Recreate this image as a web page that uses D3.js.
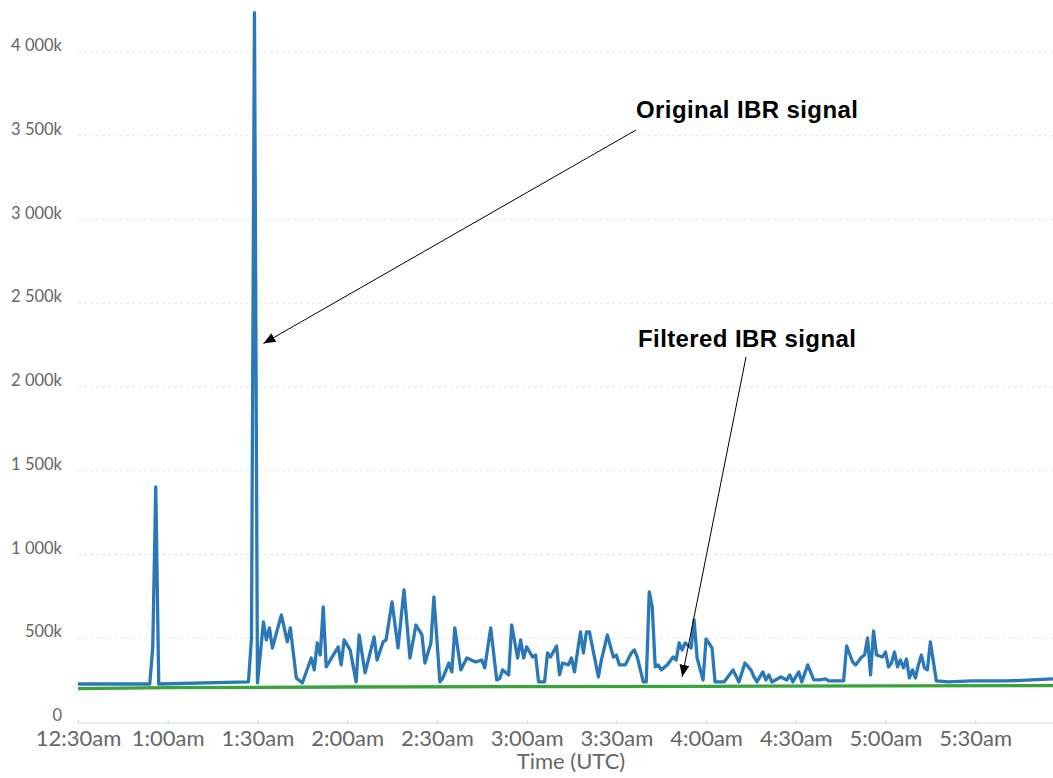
<!DOCTYPE html>
<html>
<head>
<meta charset="utf-8">
<script src="https://cdn.jsdelivr.net/npm/d3@7"></script>
<style>
  body { margin: 0; background: #fff; }
  svg { display: block; }
  .tick-y text { font-family: Lato, "Open Sans", sans-serif; font-size: 16.5px; fill: #666; }
  .tick-x text { font-family: Lato, "Open Sans", sans-serif; font-size: 22px; fill: #666; }
  .note { font-family: "Liberation Sans", Arial, sans-serif; font-weight: bold; font-size: 24px; fill: #000; }
</style>
</head>
<body>
<svg width="1053" height="778"></svg>
<script>
var svg = d3.select("svg"),
    width = +svg.attr("width"),
    height = +svg.attr("height");

// original IBR signal (time UTC, value in k)
var origTimes = ["0:30","0:54","0:55","0:56","0:57","1:27","1:28","1:29","1:30","1:32",
  "1:33","1:34","1:35","1:36","1:38","1:40","1:41","1:43","1:45","1:48",
  "1:49","1:50","1:51","1:52","1:53","1:57","1:58","1:59","2:01","2:03",
  "2:04","2:06","2:09","2:10","2:12","2:13","2:15","2:17","2:19","2:21",
  "2:23","2:25","2:26","2:28","2:29","2:31","2:32","2:34","2:35","2:36",
  "2:38","2:40","2:43","2:45","2:46","2:48","2:50","2:51","2:52","2:54",
  "2:55","2:57","2:58","2:59","3:00","3:02","3:03","3:04","3:06","3:07",
  "3:08","3:10","3:11","3:12","3:14","3:15","3:16","3:18","3:19","3:20",
  "3:21","3:24","3:25","3:27","3:29","3:30","3:31","3:33","3:35","3:36",
  "3:37","3:39","3:40","3:41","3:42","3:43","3:44","3:45","3:47","3:49",
  "3:50","3:51","3:52","3:53","3:55","3:56","3:57","3:59","4:00","4:02",
  "4:03","4:06","4:09","4:11","4:13","4:15","4:16","4:17","4:19","4:20",
  "4:21","4:22","4:25","4:27","4:28","4:29","4:31","4:32","4:34","4:36",
  "4:38","4:40","4:41","4:46","4:47","4:49","4:50","4:52","4:53","4:54",
  "4:55","4:56","4:57","4:59","5:00","5:01","5:02","5:03","5:04","5:05",
  "5:06","5:07","5:08","5:09","5:10","5:11","5:12","5:13","5:14","5:15",
  "5:17","5:21","5:29","5:41","5:56"];
var origValues = [227,227,448,1404,227,239,500,4235,233,597,
  490,562,442,508,639,478,562,263,233,382,
  311,472,400,687,329,448,341,490,430,239,
  520,293,508,370,478,490,717,442,789,382,
  579,520,352,472,747,239,263,352,299,562,
  311,382,358,370,323,562,251,260,311,281,
  579,382,490,382,448,388,400,239,239,412,
  388,454,281,352,341,382,299,538,412,538,
  538,269,370,520,388,400,341,341,412,430,
  388,239,239,777,687,329,341,311,341,388,
  370,472,430,472,442,609,382,251,496,442,
  239,239,311,239,352,311,269,239,299,251,
  281,239,269,251,281,239,299,239,341,251,
  251,257,245,245,454,358,341,388,400,502,
  281,544,400,388,418,329,352,418,329,370,
  323,376,263,311,263,341,400,323,311,478,
  245,239,245,245,257];

// filtered IBR signal
var filtTimes = ["0:30","1:00","2:00","4:00","5:56"];
var filtValues = [199,205,209,213,217];

var yTicks = [0,500,1000,1500,2000,2500,3000,3500,4000];

var parseTime = d3.utcParse("%H:%M");

var x = d3.scaleUtc()
    .domain([parseTime("0:30"), parseTime("5:56")])
    .range([78, 1053]);

var y = d3.scaleLinear()
    .domain([0, 4000])
    .range([722, 52]);

var fmtNum = d3.format(",");
function yLabel(d) { return d === 0 ? "0" : fmtNum(d).replace(",", " ") + "k"; }
var fmtTime = d3.utcFormat("%-I:%M%p");

// gridlines
svg.append("g")
    .selectAll("line")
    .data(yTicks.filter(function(d) { return d > 0; }))
    .enter().append("line")
    .attr("x1", x.range()[0])
    .attr("x2", x.range()[1])
    .attr("y1", function(d) { return y(d); })
    .attr("y2", function(d) { return y(d); })
    .attr("stroke", "#e6e6e6")
    .attr("stroke-dasharray", "3,3");

// y labels
svg.append("g")
    .attr("class", "tick-y")
    .selectAll("text")
    .data(yTicks)
    .enter().append("text")
    .attr("x", 62)
    .attr("y", function(d) { return y(d) - 1; })
    .attr("text-anchor", "end")
    .text(yLabel);

// x axis
var xAxis = svg.append("g")
    .attr("class", "tick-x")
    .attr("transform", "translate(0," + (y(0) + 1) + ")")
    .call(d3.axisBottom(x)
        .ticks(d3.utcMinute.every(30))
        .tickSize(-3)
        .tickPadding(16)
        .tickFormat(function(d) { return fmtTime(d).toLowerCase(); }));
xAxis.select(".domain").attr("stroke", "#ccd6eb").attr("d", "M" + x.range()[0] + ",0H" + x.range()[1]);
xAxis.selectAll(".tick line").attr("stroke", "#ccd6eb");
xAxis.selectAll(".tick text").attr("fill", "#666").attr("dy", "0.3em");

svg.append("text")
    .attr("x", 571)
    .attr("y", 769)
    .attr("text-anchor", "middle")
    .attr("font-family", "Lato, 'Open Sans', sans-serif")
    .attr("font-size", 22)
    .attr("fill", "#666")
    .text("Time (UTC)");

var line = d3.line()
    .x(function(d) { return x(d.t); })
    .y(function(d) { return y(d.v); });

var orig = origTimes.map(function(t, i) { return { t: parseTime(t), v: origValues[i] }; });
var filt = filtTimes.map(function(t, i) { return { t: parseTime(t), v: filtValues[i] }; });

svg.append("path")
    .datum(orig)
    .attr("fill", "none")
    .attr("stroke", "#2a78b8")
    .attr("stroke-width", 3.3)
    .attr("stroke-linejoin", "round")
    .attr("d", line);

svg.append("path")
    .datum(filt)
    .attr("fill", "none")
    .attr("stroke", "#3aa33a")
    .attr("stroke-width", 3.3)
    .attr("d", line);

// annotations
svg.append("defs").append("marker")
    .attr("id", "head")
    .attr("viewBox", "0 0 12 10")
    .attr("refX", 12)
    .attr("refY", 5)
    .attr("markerWidth", 12)
    .attr("markerHeight", 10)
    .attr("markerUnits", "userSpaceOnUse")
    .attr("orient", "auto")
    .append("path")
    .attr("d", "M0,0L12,5L0,10Z")
    .attr("fill", "#000");

var notes = [
  { text: "Original IBR signal", tx: 636, ty: 118, x1: 636, y1: 130, t: "1:29", v: 2260, dx: 9 },
  { text: "Filtered IBR signal", tx: 638, ty: 347, x1: 746, y1: 357, t: "3:52", v: 270, dx: 0 }
];

notes.forEach(function(n) {
  svg.append("text")
      .attr("class", "note")
      .attr("x", n.tx)
      .attr("y", n.ty)
      .attr("letter-spacing", 0.4)
      .text(n.text);
  svg.append("line")
      .attr("x1", n.x1)
      .attr("y1", n.y1)
      .attr("x2", x(parseTime(n.t)) + n.dx)
      .attr("y2", y(n.v))
      .attr("stroke", "#000")
      .attr("stroke-width", 1)
      .attr("marker-end", "url(#head)");
});
</script>
</body>
</html>
